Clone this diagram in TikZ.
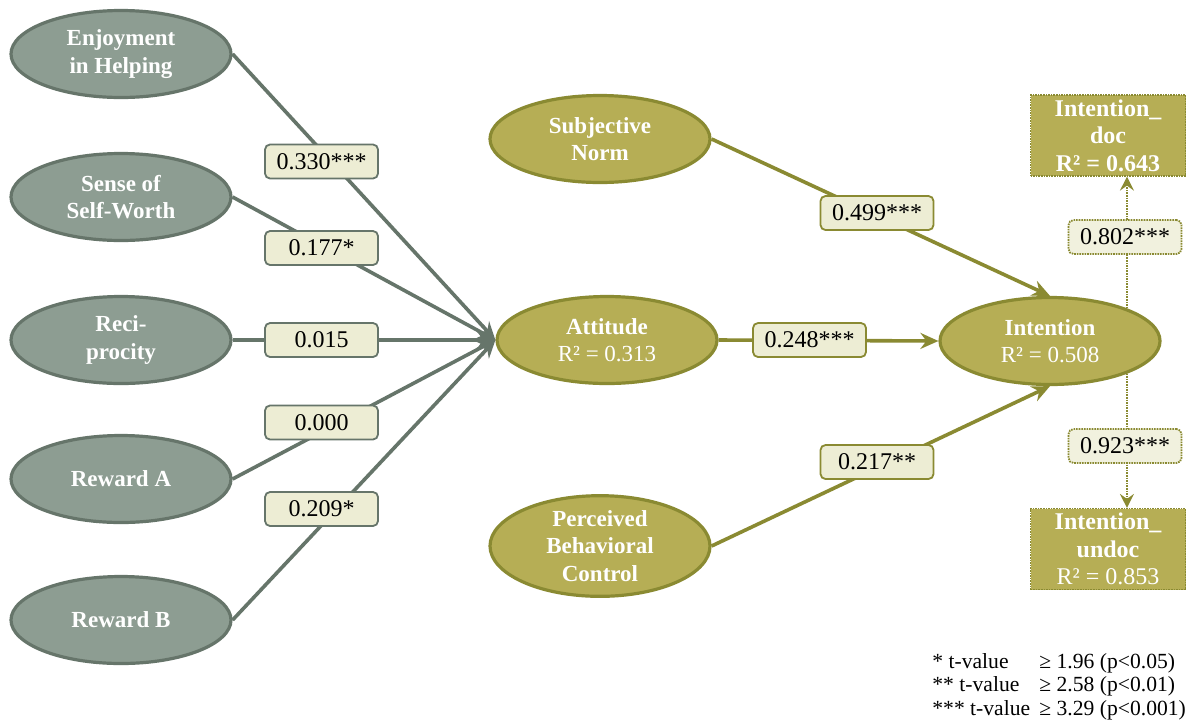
\documentclass[tikz,border=0pt]{standalone}
\usepackage{fontspec}
\setmainfont{Liberation Serif}
\usetikzlibrary{arrows.meta,shapes.geometric}
\definecolor{gfill}{HTML}{8D9D92}
\definecolor{gline}{HTML}{66756A}
\definecolor{ofill}{HTML}{B6AE55}
\definecolor{oline}{HTML}{8A8A32}
\definecolor{lfill}{HTML}{EDEDD4}
\definecolor{dfill}{HTML}{F1F1DE}
\begin{document}
\begin{tikzpicture}[x=0.5pt,y=-0.5pt,
  ellbase/.style={ellipse, line width=1.6pt, minimum width=110pt, minimum height=43.5pt,
    inner sep=0pt, text=white, align=center, font=\fontsize{11.5}{13.75}\selectfont\bfseries},
  gell/.style={ellbase, draw=gline, fill=gfill},
  oell/.style={ellbase, draw=oline, fill=ofill},
  labbase/.style={rectangle, rounded corners=2.5pt, line width=0.9pt, minimum width=56.5pt,
    minimum height=17pt, inner sep=0pt, font=\fontsize{12}{14}\selectfont},
  glab/.style={labbase, draw=gline, fill=lfill},
  olab/.style={labbase, draw=oline, fill=lfill},
  dlab/.style={labbase, draw=oline, fill=dfill, dash pattern=on 0.8pt off 0.5pt},
  outbox/.style={rectangle, draw=oline, fill=ofill, line width=0.6pt, dash pattern=on 0.8pt off 0.5pt,
    minimum width=77.5pt, minimum height=40.5pt, inner sep=0pt, text=white, align=center,
    font=\fontsize{12}{13.75}\selectfont\bfseries},
  gconn/.style={draw=gline, line width=1.8pt, -{Stealth[length=9pt,width=8pt,inset=3pt]}},
  oconn/.style={draw=oline, line width=1.8pt, -{Stealth[length=9pt,width=8pt,inset=3pt]}},
  dconn/.style={draw=oline, line width=0.9pt, dash pattern=on 0.8pt off 0.5pt,
    -{Stealth[length=7pt,width=7pt,inset=2.5pt]}},
  legend/.style={anchor=base west, inner sep=0pt, font=\fontsize{10.8}{12}\selectfont}
]
\useasboundingbox[fill=white] (0,0) rectangle (1186,724);

% left constructs
\node[gell] (enj) at (121,54) {Enjoyment\\in Helping};
\node[gell] (sow) at (121,197) {Sense of\\Self-Worth};
\node[gell] (rec) at (121,340) {Reci-\\procity};
\node[gell] (rwa) at (121,479) {Reward A};
\node[gell] (rwb) at (121,620) {Reward B};

% middle constructs
\node[oell] (sn) at (600,139) {Subjective\\Norm};
\node[oell] (att) at (607,340) {Attitude\\{\mdseries R² = 0.313}};
\node[oell] (pbc) at (600,546) {Perceived\\Behavioral\\Control};

% intention
\node[oell] (int) at (1050,341) {Intention\\{\mdseries R² = 0.508}};

% outcome boxes
\node[outbox] (doc) at (1108,135.5) {Intention\_\\doc\\R² = 0.643};
\node[outbox] (undoc) at (1108,549) {Intention\_\\undoc\\{\mdseries R² = 0.853}};

% connectors
\draw[gconn] (enj.east) -- (att.west);
\draw[gconn] (sow.east) -- (att.west);
\draw[gconn] (rec.east) -- (att.west);
\draw[gconn] (rwa.east) -- (att.west);
\draw[gconn] (rwb.east) -- (att.west);

\draw[oconn] (sn.east) -- (int.north);
\draw[oconn] (att.east) -- (int.west);
\draw[oconn] (pbc.east) -- (int.south);

\draw[dconn] (int.23) -- (int.23 |- doc.south);
\draw[dconn] (int.-23) -- (int.-23 |- undoc.north);

% path coefficients
\node[glab] (l1) at (321.5,161.5) {0.330***};
\node[glab] (l2) at (321.5,248) {0.177*};
\node[glab] (l3) at (321.5,340) {0.015};
\node[glab] (l4) at (321.5,422.5) {0.000};
\node[glab] (l5) at (321.5,509) {0.209*};

\node[olab] (l6) at (877,213) {0.499***};
\node[olab] (l7) at (809.5,340) {0.248***};
\node[olab] (l8) at (877,462) {0.217**};

\node[dlab] (l9) at (1125,237) {0.802***};
\node[dlab] (l10) at (1125,446) {0.923***};

% legend
\node[legend] (k1a) at (932,668) {* t-value};
\node[legend] (k2a) at (932,691) {** t-value};
\node[legend] (k3a) at (932,715) {*** t-value};
\node[legend] (k1b) at (1039,668) {≥ 1.96 (p<0.05)};
\node[legend] (k2b) at (1039,691) {≥ 2.58 (p<0.01)};
\node[legend] (k3b) at (1039,715) {≥ 3.29 (p<0.001)};
\end{tikzpicture}
\end{document}
